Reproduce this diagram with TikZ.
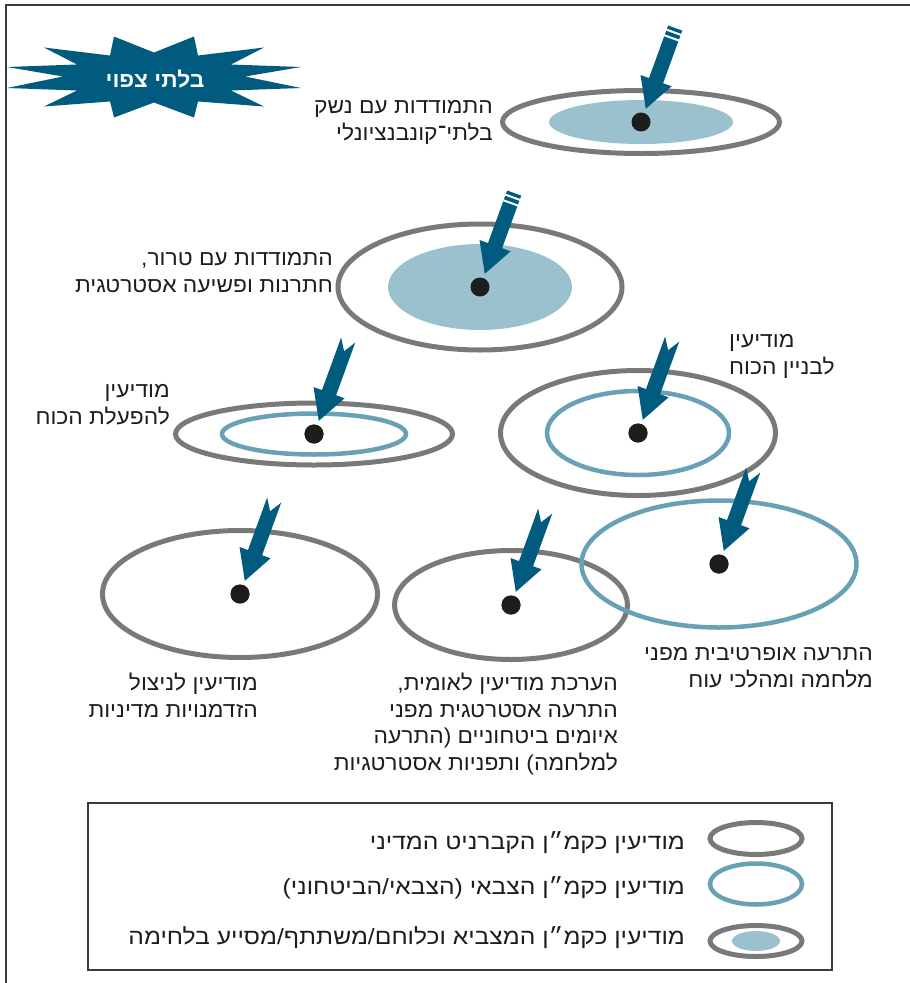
\documentclass[tikz,border=0pt]{standalone}
\usepackage{fontspec}
\newfontfamily\hebfont[Script=Hebrew, FakeStretch=1.06]{Liberation Sans}
\newfontfamily\hebwide[Script=Hebrew, FakeStretch=1.12]{Liberation Sans}
\TeXXeTstate=1
\definecolor{pointerblue}{RGB}{0,91,127}
\definecolor{ringgray}{RGB}{121,121,121}
\definecolor{ringblue}{RGB}{104,160,182}
\definecolor{coreblue}{RGB}{155,192,206}
\definecolor{ink}{RGB}{29,29,27}
\definecolor{framegray}{RGB}{58,58,58}
% one right-to-left caption line with a fixed height (20.5pt) and depth (6pt)
\newcommand\hebline[1]{\rule[-6pt]{0pt}{26.5pt}\beginR #1\endR}
% pointer with a flat, double-striped tail; its tip stops just short of the target dot
\newcommand\stripedpointer[1]{%
  \begin{scope}[shift={(#1)},rotate=250]
    \fill[pointerblue] (-100,-7.5) -- (-44,-7.5) -- (-44,-16.5) -- (-14,0)
      -- (-44,16.5) -- (-44,7.5) -- (-100,7.5) -- cycle;
    \draw[white,line width=2pt] (-95.5,-9) -- (-95.5,9) (-89.5,-9) -- (-89.5,9);
  \end{scope}}
% pointer with a swallow-tail notch
\newcommand\notchedpointer[1]{%
  \begin{scope}[shift={(#1)},rotate=250]
    \fill[pointerblue] (-100,-7.5) -- (-44,-7.5) -- (-44,-16.5) -- (-14,0)
      -- (-44,16.5) -- (-44,7.5) -- (-100,7.5) -- (-88,0) -- cycle;
  \end{scope}}
\begin{document}
\begin{tikzpicture}[x=1pt,y=-1pt,
  txt/.style={font=\hebfont\fontsize{21.5}{26.8}\selectfont, text=ink, inner sep=0pt},
  keytxt/.style={font=\hebwide\fontsize{22}{26}\selectfont, text=ink, inner sep=0pt},
  target/.style={circle, fill=ink, minimum size=19pt, inner sep=0pt},
  grayring/.style={draw=ringgray, line width=5pt},
  bluering/.style={draw=ringblue, line width=4.5pt},
  core/.style={fill=coreblue}]
\useasboundingbox (0,0) rectangle (910,983);

% outer frame (only the top and left edges fall inside the page)
\draw[framegray, line width=2.6pt] (6,995) -- (6,5) -- (920,5);

% "unexpected" burst
\begin{scope}[shift={(154,77.5)}]
  \fill[pointerblue] (-40,-41) -- (0,-25) -- (40,-41) -- (44,-22) -- (110,-30)
    -- (77,-13) -- (147,-10.5) -- (91,-1) -- (147,10.5) -- (77,13) -- (110,29)
    -- (44,24) -- (40,40) -- (0,25) -- (-40,40) -- (-44,24) -- (-110,29)
    -- (-77,13) -- (-147,10.5) -- (-91,-1) -- (-147,-10.5) -- (-77,-13)
    -- (-110,-30) -- (-44,-22) -- cycle;
\end{scope}
\node[font=\hebfont\bfseries\fontsize{21.5}{24}\selectfont, text=white, inner sep=0pt]
  (burst) at (155,79) {\beginR בלתי צפוי\endR};

% target centres
\node[target] (dA) at (641,122) {};
\node[target] (dB) at (480,287) {};
\node[target] (dC) at (314,434) {};
\node[target] (dD) at (638,433) {};
\node[target] (dE) at (240,594) {};
\node[target] (dF) at (511,605) {};
\node[target] (dG) at (719,564) {};

% rings
\fill[core] (dA) ellipse [x radius=92pt, y radius=22pt];
\draw[grayring] (dA) ellipse [x radius=138.5pt, y radius=31.5pt];
\fill[core] (dB) ellipse [x radius=92pt, y radius=43pt];
\draw[grayring] (dB) ellipse [x radius=142pt, y radius=63pt];
\draw[grayring] (dC) ellipse [x radius=138.5pt, y radius=31pt];
\draw[bluering] (dC) ellipse [x radius=92pt, y radius=20.5pt];
\draw[grayring] (dD) ellipse [x radius=137.5pt, y radius=62.5pt];
\draw[bluering] (dD) ellipse [x radius=91pt, y radius=42pt];
\draw[grayring] (dE) ellipse [x radius=137.5pt, y radius=63.5pt];
\draw[grayring] (dF) ellipse [x radius=116.5pt, y radius=54.5pt];
\draw[bluering] (dG) ellipse [x radius=137.5pt, y radius=63.5pt];

% dots on top of the rings
\foreach \d in {dA,dB,dC,dD,dE,dF,dG} \fill[ink] (\d) circle [radius=9.5pt];

% pointers
\stripedpointer{dA}
\stripedpointer{dB}
\notchedpointer{dC}
\notchedpointer{dD}
\notchedpointer{dE}
\notchedpointer{dF}
\notchedpointer{dG}

% captions
\node[txt, anchor=north east, align=right] (capA) at (493,92.5)
  {\hebline{התמודדות עם נשק}\\\hebline{בלתי־קונבנציונלי}};
\node[txt, anchor=north east, align=right] (capB) at (333,244.5)
  {\hebline{התמודדות עם טרור,}\\\hebline{חתרנות ופשיעה אסטרטגית}};
\node[txt, anchor=north east, align=right] (capC) at (170,376.5)
  {\hebline{מודיעין}\\\hebline{להפעלת הכוח}};
\node[txt, anchor=north west, align=left] (capD) at (729,326.5)
  {\hebline{מודיעין}\\\hebline{לבניין הכוח}};
\node[txt, anchor=north east, align=right] (capE) at (258,669.5)
  {\hebline{מודיעין לניצול}\\\hebline{הזדמנויות מדיניות}};
\node[txt, anchor=north east, align=right] (capF) at (618,669.5)
  {\hebline{הערכת מודיעין לאומית,}\\\hebline{התרעה אסטרטגית מפני}\\\hebline{איומים ביטחוניים (התרעה}\\\hebline{למלחמה) ותפניות אסטרטגיות}};
\node[txt, anchor=north east, align=right] (capG) at (873,639.5)
  {\hebline{התרעה אופרטיבית מפני}\\\hebline{מלחמה ומהלכי עוח}};

% legend
\draw[draw=framegray, line width=1.2pt] (88,803) rectangle (832,970);
\node[inner sep=0pt] (kA) at (756,838.5) {};
\node[inner sep=0pt] (kB) at (756,884) {};
\node[inner sep=0pt] (kC) at (756,941) {};
\draw[grayring] (kA) ellipse [x radius=46pt, y radius=16pt];
\draw[bluering] (kB) ellipse [x radius=46pt, y radius=20.5pt];
\fill[core] (kC) ellipse [x radius=24pt, y radius=10pt];
\draw[grayring] (kC) ellipse [x radius=46pt, y radius=15.5pt];
\node[keytxt, anchor=base east] (kAtext) at (685,849) {\beginR מודיעין כקמ״ן הקברניט המדיני\endR};
\node[keytxt, anchor=base east] (kBtext) at (685,894) {\beginR מודיעין כקמ״ן הצבאי (הצבאי/הביטחוני)\endR};
\node[keytxt, anchor=base east] (kCtext) at (685,944) {\beginR מודיעין כקמ״ן המצביא וכלוחם/משתתף/מסייע בלחימה\endR};
\end{tikzpicture}
\end{document}
